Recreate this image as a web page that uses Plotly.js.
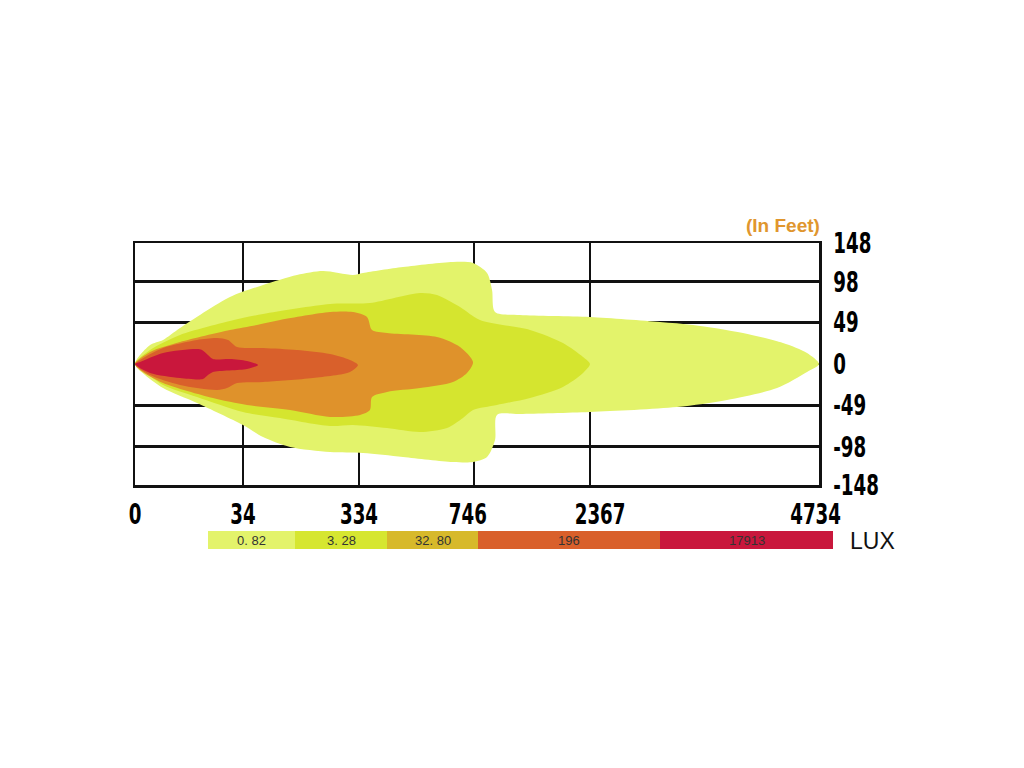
<!DOCTYPE html>
<html>
<head>
<meta charset="utf-8">
<script src="https://cdn.plot.ly/plotly-3.0.1.min.js"></script>
<style>html,body{margin:0;padding:0;background:#fff;}#chart{width:1024px;height:768px;}</style>
</head>
<body>
<div id="chart"></div>
<script>
// ---- Data (x in grid-column units, y in feet) ----
const xGridPos = [0, 0.947, 1.965, 2.974, 3.991, 6];
const xLabelPos = [0, 0.947, 1.965, 2.92, 4.08, 5.97];
const xTickLabels = ['0', '34', '334', '746', '2367', '4734'];

const yGridPos = [148, 101, 51, 0, -50.5, -101, -148];
const yTickLabels = ['148', '98', '49', '0', '-49', '-98', '-148'];

const luxLabels = ['0. 82', '3. 28', '32. 80', '196', '17913'];

// zone outlines (0.82 lux outer -> 17913 lux core)
const zone082X = [0, 0.132, 0.246, 0.395, 0.833, 1.123, 1.421, 1.649, 1.912, 2.0, 2.351, 2.789, 2.965, 3.088, 3.132, 3.158, 3.377, 3.991, 4.605, 4.895, 5.333, 5.684, 5.895, 6.0, 5.895, 5.632, 5.193, 4.754, 3.991, 3.377, 3.175, 3.158, 3.088, 2.965, 2.789, 2.351, 2.0, 1.711, 1.360, 1.123, 0.947, 0.544, 0.246, 0.088, 0];
const zone082Y = [0, 23.2, 29.4, 44.0, 81.9, 96.6, 108.9, 113.7, 108.9, 111.3, 118.6, 124.8, 123.5, 111.3, 90.5, 63.6, 59.9, 57.5, 51.4, 47.7, 37.9, 25.7, 13.5, 0, -9.8, -29.4, -44.0, -52.6, -58.7, -61.2, -62.4, -93.0, -113.7, -119.9, -119.9, -113.7, -108.9, -107.6, -101.5, -89.3, -74.6, -47.7, -29.4, -13.5, 0];

const zone328X = [0, 0.132, 0.395, 0.833, 1.123, 1.711, 2.061, 2.5, 2.649, 2.851, 3.026, 3.465, 3.754, 3.930, 3.991, 3.930, 3.754, 3.465, 3.175, 2.965, 2.877, 2.737, 2.5, 2.211, 1.912, 1.711, 1.272, 0.947, 0.544, 0.246, 0.088, 0];
const zone328Y = [0, 17.1, 35.5, 52.6, 61.2, 73.4, 74.6, 86.8, 84.4, 69.7, 53.8, 41.6, 25.7, 8.6, 0, -11.0, -28.1, -41.6, -50.1, -56.3, -66.0, -78.3, -83.2, -78.3, -74.6, -75.8, -66.0, -58.7, -40.4, -25.7, -9.8, 0];

const zone3280X = [0, 0.132, 0.395, 0.833, 1.070, 1.272, 1.711, 1.912, 2.035, 2.079, 2.211, 2.649, 2.851, 2.965, 2.912, 2.789, 2.5, 2.211, 2.079, 2.061, 1.974, 1.711, 1.360, 0.982, 0.684, 0.246, 0.044, 0];
const zone3280Y = [0, 14.7, 26.9, 41.6, 47.7, 53.8, 63.6, 63.6, 57.5, 41.6, 37.9, 33.0, 20.8, 2.4, -11.0, -22.0, -29.4, -34.2, -40.4, -56.3, -62.4, -64.8, -56.3, -50.1, -41.6, -23.2, -7.3, 0];

const zone196X = [0, 0.044, 0.246, 0.544, 0.719, 0.816, 0.895, 1.123, 1.421, 1.711, 1.886, 1.956, 1.886, 1.561, 1.123, 0.895, 0.807, 0.719, 0.395, 0.132, 0];
const zone196Y = [0, 4.9, 19.6, 29.4, 31.8, 29.4, 20.8, 19.6, 17.1, 12.2, 4.9, -1.2, -9.8, -17.1, -22.0, -23.2, -29.4, -31.8, -25.7, -13.5, 0];

const zone17913X = [0, 0.044, 0.246, 0.544, 0.588, 0.640, 0.684, 0.833, 0.982, 1.079, 0.982, 0.684, 0.640, 0.596, 0.395, 0.132, 0];
const zone17913Y = [0, 2.4, 13.5, 18.3, 17.1, 11.0, 6.1, 6.1, 3.7, -1.2, -6.1, -9.8, -13.5, -18.3, -17.1, -11.0, 0];

// ---- Styles ----
const zoneColors = ['#e3f36b', '#d5e52f', '#df922b', '#d9602b', '#c9173c'];
const legendColors = ['#e3f36b', '#d6e630', '#d7b92b', '#d9602b', '#c9173c'];
const numFont = {family: 'Liberation Sans Narrow, DejaVu Sans Condensed, Arial Narrow, sans-serif', size: 29, color: '#000', weight: 'bold'};
const NUM_SCALE_X = 0.7;

const zones = [[zone082X, zone082Y], [zone328X, zone328Y], [zone3280X, zone3280Y], [zone196X, zone196Y], [zone17913X, zone17913Y]];
const traces = zones.map((z, i) => ({
  type: 'scatter', x: z[0], y: z[1], mode: 'lines', fill: 'toself',
  fillcolor: zoneColors[i], line: {width: 0, color: zoneColors[i], shape: 'spline', smoothing: 0.8},
  hoverinfo: 'skip', showlegend: false, xaxis: 'x', yaxis: 'y'
}));
// carrier trace for the label axis
traces.push({type: 'scatter', x: [0], y: [0], mode: 'markers', marker: {opacity: 0}, hoverinfo: 'skip', showlegend: false, xaxis: 'x2', yaxis: 'y'});

// plot area in pixels: left 135, right 819, top 243, bottom 485
const W = 1024, H = 768, L = 135, R = 819, T = 243, B = 485;
const pxX = v => (v - L) / (R - L);
const pxY = v => (B - v) / (B - T);

const legendEdges = [208, 295, 387, 478, 660, 833];
const shapes = [];
const annotations = [];
for (let i = 0; i < luxLabels.length; i++) {
  shapes.push({type: 'rect', xref: 'paper', yref: 'paper', x0: pxX(legendEdges[i]), x1: pxX(legendEdges[i + 1]), y0: pxY(549), y1: pxY(531), fillcolor: legendColors[i], line: {width: 0}, layer: 'above'});
  annotations.push({xref: 'paper', yref: 'paper', x: pxX((legendEdges[i] + legendEdges[i + 1]) / 2), y: pxY(540.5), text: luxLabels[i], showarrow: false, xanchor: 'center', yanchor: 'middle', font: {family: 'Liberation Sans, Arial, sans-serif', size: 13, color: '#333'}});
}
annotations.push({xref: 'paper', yref: 'paper', x: pxX(848), y: pxY(541), text: 'LUX', showarrow: false, xanchor: 'left', yanchor: 'middle', font: {family: 'Liberation Sans, Arial, sans-serif', size: 23, color: '#111'}});
annotations.push({xref: 'paper', yref: 'paper', x: pxX(822), y: pxY(226), text: '(In Feet)', showarrow: false, xanchor: 'right', yanchor: 'middle', font: {family: 'Liberation Sans, Arial, sans-serif', size: 19, color: '#e0962e', weight: 'bold'}});

const layout = {
  width: W, height: H,
  margin: {l: L, r: W - R, t: T, b: H - B, pad: 0},
  paper_bgcolor: '#fff', plot_bgcolor: '#fff',
  showlegend: false,
  xaxis: {range: [0, 6], tickmode: 'array', tickvals: xGridPos, showticklabels: false, ticks: '',
          showgrid: true, gridcolor: '#111', gridwidth: 2.5, zeroline: false,
          showline: true, mirror: true, linecolor: '#111', linewidth: 2.5, fixedrange: true},
  xaxis2: {range: [0, 6], overlaying: 'x', anchor: 'y', side: 'bottom', tickmode: 'array', tickvals: xLabelPos, ticktext: xTickLabels,
           ticks: '', showgrid: false, zeroline: false, showline: false, tickfont: numFont, ticklabelstandoff: 9, fixedrange: true},
  yaxis: {range: [-148, 148], side: 'right', tickmode: 'array', tickvals: yGridPos, ticktext: yTickLabels, ticks: '',
          showgrid: true, gridcolor: '#111', gridwidth: 2.5, zeroline: false,
          showline: true, mirror: true, linecolor: '#111', linewidth: 2.5, tickfont: numFont, ticklabelstandoff: 6, fixedrange: true},
  shapes: shapes,
  annotations: annotations
};

// narrow the bold tick numerals horizontally (condensed poster-style digits)
function condenseTicks(gd) {
  gd.querySelectorAll('.xtick text, .x2tick text, .ytick text').forEach(t => {
    const x = parseFloat(t.getAttribute('x')) || 0;
    const y = parseFloat(t.getAttribute('y')) || 0;
    const base = t.getAttribute('data-base-transform');
    const orig = base !== null ? base : (t.getAttribute('transform') || '');
    t.setAttribute('data-base-transform', orig);
    t.setAttribute('transform', orig + ` translate(${x},${y}) scale(${NUM_SCALE_X},1) translate(${-x},${-y})`);
  });
}

Plotly.newPlot('chart', traces, layout, {displayModeBar: false, staticPlot: true}).then(gd => condenseTicks(gd));
</script>
</body>
</html>
